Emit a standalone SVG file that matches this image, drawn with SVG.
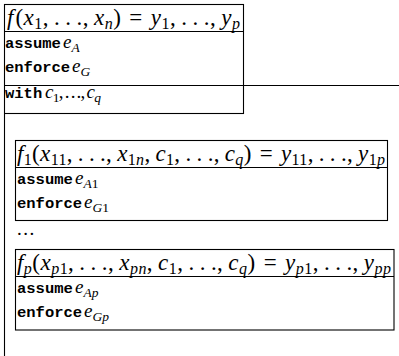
<svg xmlns="http://www.w3.org/2000/svg" width="399" height="356" viewBox="0 0 399 356">
<style>
.b{fill:none;stroke:#000;stroke-width:1.1}
.m{font-family:"Liberation Serif",serif;font-size:19px;fill:#000}
.f{font-family:"Liberation Serif",serif;font-size:23px;fill:#000}
.i{font-style:italic}
.s{font-size:13.5px}
.t{font-size:16px}
.k{font-family:"Liberation Mono",monospace;font-weight:bold;font-size:15.5px;fill:#000}
</style>
<rect width="399" height="356" fill="#fff"/>
<g id="frame">
<line class="b" x1="4.5" y1="85.5" x2="399" y2="85.5"/>
<line class="b" x1="4.5" y1="113.5" x2="4.5" y2="356"/>
</g>
<g id="main">
<rect class="b" x="4.5" y="4.5" width="239" height="109"/>
<line class="b" x1="4.5" y1="31.5" x2="243.5" y2="31.5"/>
<text class="f" x="7" y="24.5" textLength="233" lengthAdjust="spacing"><tspan class="i">f</tspan><tspan dx="1.5">(</tspan><tspan class="i">x</tspan><tspan class="t" dy="4">1</tspan><tspan dy="-4">,</tspan><tspan dx="5">.</tspan><tspan dx="5">.</tspan><tspan dx="5">.</tspan>,<tspan dx="5" class="i">x</tspan><tspan class="t i" dy="4">n</tspan><tspan dy="-4">)</tspan><tspan dx="8">=</tspan><tspan dx="8" class="i">y</tspan><tspan class="t" dy="4">1</tspan><tspan dy="-4">,</tspan><tspan dx="5">.</tspan><tspan dx="5">.</tspan><tspan dx="5">.</tspan>,<tspan dx="5" class="i">y</tspan><tspan class="t i" dy="4">p</tspan></text>
<text class="k" x="5" y="47.5">assume</text>
<text class="m" x="63" y="47.5"><tspan class="i">e</tspan><tspan class="s i" dy="4">A</tspan></text>
<text class="k" x="5" y="71.5">enforce</text>
<text class="m" x="72" y="71.5"><tspan class="i">e</tspan><tspan class="s i" dy="4">G</tspan></text>
<text class="k" x="5" y="97.5">with</text>
<text class="m" x="45" y="97.5" textLength="56" lengthAdjust="spacing"><tspan class="i">c</tspan><tspan class="s" dy="4">1</tspan><tspan dy="-4">,</tspan><tspan dx="2">.</tspan><tspan dx="2">.</tspan><tspan dx="2">.</tspan>,<tspan dx="2" class="i">c</tspan><tspan class="s i" dy="4">q</tspan></text>
</g>
<g id="sub1">
<rect class="b" x="15.5" y="140.5" width="372" height="80"/>
<line class="b" x1="15.5" y1="167.5" x2="387.5" y2="167.5"/>
<text class="f" x="17" y="160.5" textLength="368" lengthAdjust="spacing"><tspan class="i">f</tspan><tspan class="t" dy="4">1</tspan><tspan dy="-4">(</tspan><tspan class="i">x</tspan><tspan class="t" dy="4">11</tspan><tspan dy="-4">,</tspan><tspan dx="5">.</tspan><tspan dx="5">.</tspan><tspan dx="5">.</tspan>,<tspan dx="5" class="i">x</tspan><tspan class="t" dy="4">1<tspan class="i">n</tspan></tspan><tspan dy="-4">,</tspan><tspan dx="5" class="i">c</tspan><tspan class="t" dy="4">1</tspan><tspan dy="-4">,</tspan><tspan dx="5">.</tspan><tspan dx="5">.</tspan><tspan dx="5">.</tspan>,<tspan dx="5" class="i">c</tspan><tspan class="t i" dy="4">q</tspan><tspan dy="-4">)</tspan><tspan dx="8">=</tspan><tspan dx="8" class="i">y</tspan><tspan class="t" dy="4">11</tspan><tspan dy="-4">,</tspan><tspan dx="5">.</tspan><tspan dx="5">.</tspan><tspan dx="5">.</tspan>,<tspan dx="5" class="i">y</tspan><tspan class="t" dy="4">1<tspan class="i">p</tspan></tspan></text>
<text class="k" x="17" y="184">assume</text>
<text class="m" x="75" y="184"><tspan class="i">e</tspan><tspan class="s" dy="4"><tspan class="i">A</tspan>1</tspan></text>
<text class="k" x="17" y="207.5">enforce</text>
<text class="m" x="84" y="207.5"><tspan class="i">e</tspan><tspan class="s" dy="4"><tspan class="i">G</tspan>1</tspan></text>
</g>
<text id="dots" class="m" x="17" y="235">.<tspan dx="1.5">.</tspan><tspan dx="1.5">.</tspan></text>
<g id="sub2">
<rect class="b" x="15.5" y="249.5" width="378.5" height="80.5"/>
<line class="b" x1="15.5" y1="276.5" x2="394" y2="276.5"/>
<text class="f" x="17" y="269.5" textLength="374" lengthAdjust="spacing"><tspan class="i">f</tspan><tspan class="t i" dy="4">p</tspan><tspan dy="-4">(</tspan><tspan class="i">x</tspan><tspan class="t" dy="4"><tspan class="i">p</tspan>1</tspan><tspan dy="-4">,</tspan><tspan dx="5">.</tspan><tspan dx="5">.</tspan><tspan dx="5">.</tspan>,<tspan dx="5" class="i">x</tspan><tspan class="t i" dy="4">pn</tspan><tspan dy="-4">,</tspan><tspan dx="5" class="i">c</tspan><tspan class="t" dy="4">1</tspan><tspan dy="-4">,</tspan><tspan dx="5">.</tspan><tspan dx="5">.</tspan><tspan dx="5">.</tspan>,<tspan dx="5" class="i">c</tspan><tspan class="t i" dy="4">q</tspan><tspan dy="-4">)</tspan><tspan dx="8">=</tspan><tspan dx="8" class="i">y</tspan><tspan class="t" dy="4"><tspan class="i">p</tspan>1</tspan><tspan dy="-4">,</tspan><tspan dx="5">.</tspan><tspan dx="5">.</tspan><tspan dx="5">.</tspan>,<tspan dx="5" class="i">y</tspan><tspan class="t i" dy="4">pp</tspan></text>
<text class="k" x="17" y="293">assume</text>
<text class="m" x="75" y="293"><tspan class="i">e</tspan><tspan class="s i" dy="4">Ap</tspan></text>
<text class="k" x="17" y="316.5">enforce</text>
<text class="m" x="84" y="316.5"><tspan class="i">e</tspan><tspan class="s i" dy="4">Gp</tspan></text>
</g>
</svg>
